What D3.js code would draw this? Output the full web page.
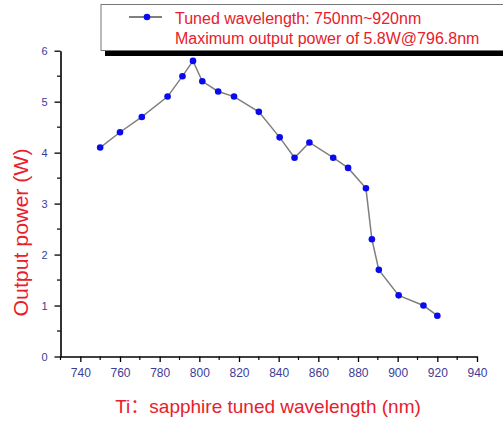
<!DOCTYPE html>
<html>
<head>
<meta charset="utf-8">
<script src="https://cdn.jsdelivr.net/npm/d3@7/dist/d3.min.js"></script>
<style>
  html, body { margin: 0; padding: 0; background: #fff; }
  svg { display: block; font-family: Arial, "Liberation Sans", sans-serif; }
</style>
</head>
<body>
<svg id="chart" width="503" height="421"></svg>
<script>
// Ti:sapphire laser tuning curve
const wavelengths = [750, 760, 771, 784, 791.5, 796.8, 801.5, 809.5, 817.5, 830, 840.5, 848, 855.5, 867.5, 875, 884, 887, 890.5, 900.5, 913, 920];
const powers      = [4.1, 4.4, 4.7, 5.1, 5.5, 5.8, 5.4, 5.2, 5.1, 4.8, 4.3, 3.9, 4.2, 3.9, 3.7, 3.3, 2.3, 1.7, 1.2, 1.0, 0.8];
const xTicks = [740, 760, 780, 800, 820, 840, 860, 880, 900, 920, 940];
const yTicks = [0, 1, 2, 3, 4, 5, 6];
const legendLines = ["Tuned wavelength: 750nm~920nm", "Maximum output power of 5.8W@796.8nm"];
const xTitleParts = ["Ti", "\uFF1A", "sapphire tuned wavelength (nm)"];
const yTitle = "Output power (W)";

const svg = d3.select("#chart");
const plotLeft = 60.5, plotRight = 477, plotTop = 50.7, plotBottom = 356.5;

const x = d3.scaleLinear().domain([730, 940]).range([plotLeft, plotRight]);
const y = d3.scaleLinear().domain([0, 6]).range([plotBottom, plotTop]);

const tickColor = "#3c3c96";
const red = "#e8202a";

// minor ticks every 10 nm and every 0.5 W
const xMinor = d3.range(730, 941, 10).filter(v => !xTicks.includes(v));
const yMinor = d3.range(0.5, 6, 1);

const gx = svg.append("g").attr("transform", `translate(0,${plotBottom})`);
gx.call(d3.axisBottom(x).tickValues(xTicks).tickFormat(d3.format("d"))
  .tickSize(5.5).tickPadding(6).tickSizeOuter(0));
gx.append("g").selectAll("line").data(xMinor).join("line")
  .attr("x1", d => x(d)).attr("x2", d => x(d)).attr("y1", 0).attr("y2", 3.5)
  .attr("stroke", "#000").attr("stroke-width", 1.2);

const gy = svg.append("g").attr("transform", `translate(${plotLeft},0)`);
gy.call(d3.axisLeft(y).tickValues(yTicks).tickFormat(d3.format("d"))
  .tickSize(6).tickPadding(7).tickSizeOuter(0));
gy.append("g").selectAll("line").data(yMinor).join("line")
  .attr("y1", d => y(d)).attr("y2", d => y(d)).attr("x1", 0).attr("x2", -3.5)
  .attr("stroke", "#000").attr("stroke-width", 1.2);

[gx, gy].forEach(g => {
  g.select(".domain").attr("stroke", "#000").attr("stroke-width", 1.6);
  g.selectAll(".tick line").attr("stroke", "#000").attr("stroke-width", 1.3);
  g.selectAll(".tick text").attr("fill", tickColor)
    .attr("font-family", "Arial, 'Liberation Sans', sans-serif");
});
gx.selectAll(".tick text").attr("font-size", 12);
gy.selectAll(".tick text").attr("font-size", 11);

// data line and markers
const pts = wavelengths.map((w, i) => [w, powers[i]]);
svg.append("path")
  .datum(pts)
  .attr("fill", "none").attr("stroke", "#7f7f7f").attr("stroke-width", 1.5)
  .attr("d", d3.line().x(d => x(d[0])).y(d => y(d[1])));

svg.append("g").selectAll("circle")
  .data(pts)
  .join("circle")
  .attr("cx", d => x(d[0])).attr("cy", d => y(d[1])).attr("r", 3.3)
  .attr("fill", "#0a0aee");

// axis titles (full-width colon set in a CJK face)
const xt = svg.append("text").attr("x", 268).attr("y", 412.5).attr("text-anchor", "middle")
  .attr("fill", red).attr("font-size", 19);
xt.selectAll("tspan").data(xTitleParts).join("tspan")
  .attr("font-family", (d, i) => i === 1 ? "'Noto Sans CJK SC', sans-serif" : null)
  .text(d => d);
svg.append("text").attr("transform", "translate(28,232.5) rotate(-90)")
  .attr("text-anchor", "middle").attr("fill", red).attr("font-size", 20)
  .attr("textLength", 168).attr("lengthAdjust", "spacingAndGlyphs").text(yTitle);

// legend box with drop shadow along its bottom edge
const lg = svg.append("g");
lg.append("rect").attr("x", 105).attr("y", 10).attr("width", 410).attr("height", 46).attr("fill", "#000");
lg.append("rect").attr("x", 101).attr("y", 4.5).attr("width", 410).attr("height", 46)
  .attr("fill", "#fff").attr("stroke", "#777").attr("stroke-width", 1);
lg.append("line").attr("x1", 129).attr("x2", 162).attr("y1", 17).attr("y2", 17)
  .attr("stroke", "#555").attr("stroke-width", 1.4);
lg.append("circle").attr("cx", 147).attr("cy", 17).attr("r", 3.3).attr("fill", "#0a0aee");
lg.selectAll("text.leg").data(legendLines).join("text").attr("class", "leg")
  .attr("x", 175).attr("y", (d, i) => 24 + i * 19.5)
  .attr("fill", red).attr("font-size", 16).text(d => d);
</script>
</body>
</html>
